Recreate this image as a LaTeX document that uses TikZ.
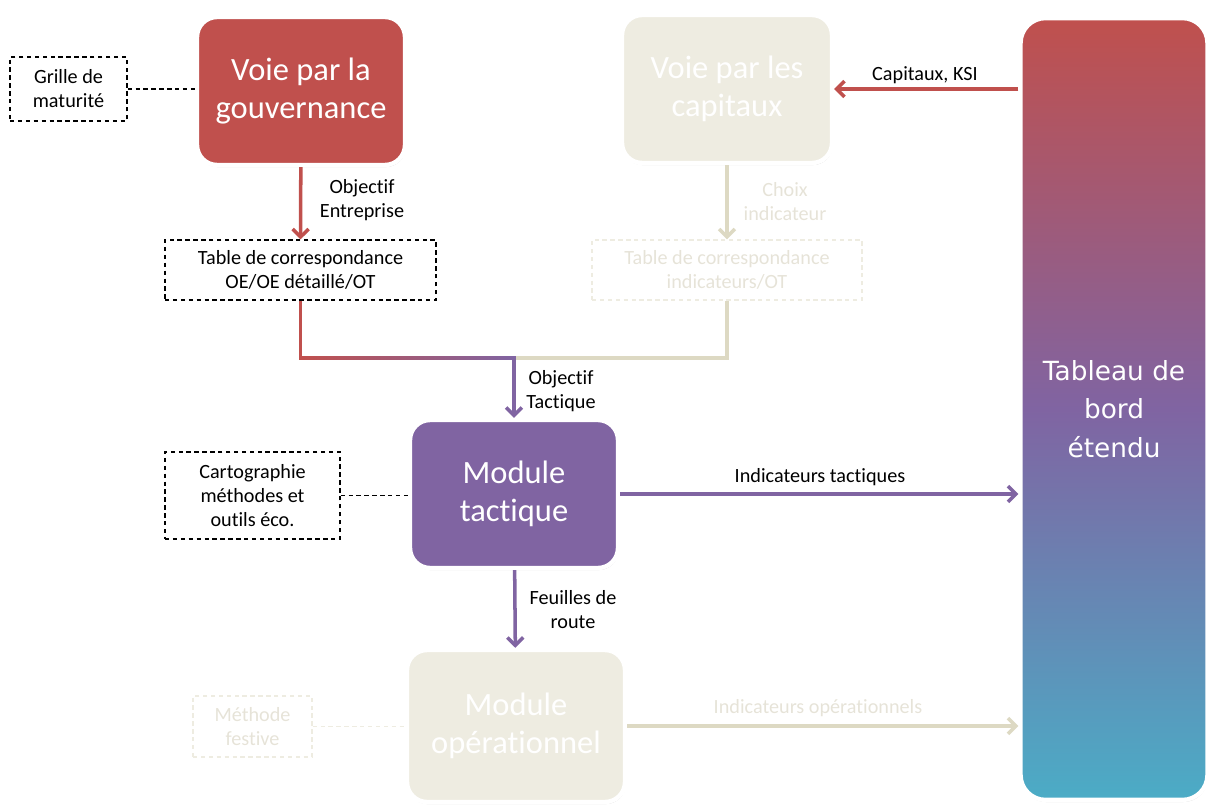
\documentclass[tikz,border=0pt]{standalone}
\usepackage{fontspec}
\setmainfont{Carlito}[Ligatures=NoCommon]
\newfontfamily\barfont{DejaVu Sans}
\usetikzlibrary{arrows.meta,positioning,shadows,calc}
\definecolor{govred}{HTML}{C0504D}
\definecolor{tacpurple}{HTML}{8064A2}
\definecolor{barcyan}{HTML}{4BACC6}
\definecolor{paleback}{HTML}{EEECE1}
\definecolor{paleline}{HTML}{DDD9C3}
\definecolor{paletext}{HTML}{E6E3D8}

\begin{document}
\begin{tikzpicture}[
  x=0.02cm, y=-0.02cm,
  every node/.style={font=\fontsize{11.5}{13.6}\selectfont},
  mod/.style={draw=white, line width=2.5pt, rounded corners=0.4cm,
              minimum width=4.16cm, minimum height=2.96cm, align=center,
              text=white, font=\fontsize{18.5}{21.5}\selectfont,
              drop shadow={shadow xshift=0.4pt, shadow yshift=-1.2pt,
                           opacity=0.35, fill=gray}},
  govmod/.style={mod, fill=govred},
  tacmod/.style={mod, fill=tacpurple},
  palemod/.style={mod, fill=paleback},
  tool/.style={draw, dash pattern=on 2.5pt off 2pt, line width=0.7pt,
               align=center, inner sep=0pt},
  paletool/.style={tool, draw=paleback, text=paletext},
  lbl/.style={align=center},
  palelbl/.style={lbl, text=paletext},
  arr/.style={-{Straight Barb[length=4.5pt,width=9pt]}, line width=2pt},
  link/.style={dash pattern=on 2.5pt off 2pt, line width=0.7pt}
]
\useasboundingbox (0,0) rectangle (1209,807);

%% main modules
\node[govmod]  (gov) at (301, 91)  {Voie par la\\gouvernance};
\node[palemod, minimum width=4.2cm] (cap) at (727, 89) {Voie par les\\capitaux};
\node[tacmod]  (tac) at (514, 494) {Module\\tactique};
\node[palemod, minimum width=4.36cm, minimum height=3.04cm]
  (op) at (516, 726) {Module\\opérationnel};

%% dashboard
\node[mod, top color=govred, bottom color=barcyan, middle color=tacpurple,
      minimum width=3.74cm, minimum height=15.64cm, rounded corners=0.5cm,
      font=\barfont\fontsize{15}{22}\selectfont]
  (bar) at (1114, 409) {Tableau de\\bord\\étendu};

%% tools
\node[tool, minimum width=2.34cm, minimum height=1.28cm]
  (grille) at (68.5, 89) {Grille de\\maturité};
\node[tool, minimum width=5.42cm, minimum height=1.2cm]
  (tblOE) at (300.5, 270) {Table de correspondance\\OE/OE détaillé/OT};
\node[paletool, minimum width=5.4cm, minimum height=1.2cm]
  (tblInd) at (727, 270) {Table de correspondance\\indicateurs/OT};
\node[tool, minimum width=3.5cm, minimum height=1.74cm]
  (carto) at (252.5, 495.5) {Cartographie\\méthodes et\\outils éco.};
\node[paletool, minimum width=2.38cm, minimum height=1.22cm]
  (festive) at (252.5, 726.5) {Méthode\\festive};

\foreach \a/\b/\c in {grille/gov/black, carto/tac/black, festive/op/paleback}
  \draw[link, \c] (\a.east) -- (\a.east -| \b.west);

%% flows
\draw[arr, govred] (cap.east -| bar.west) -- (cap.east);
\draw[arr, govred] (gov) -- (tblOE);
\draw[arr, paleline] (cap) -- (tblInd);

\coordinate (merge) at (514, 358);
\draw[line width=2pt, paleline] (tblInd.south) |- (merge);
\draw[line width=2pt, govred] (tblOE.south) |- (merge);
\shade[left color=govred, right color=tacpurple]
  ($(tblOE.south |- merge)+(0,-1.75)$) rectangle ($(merge)+(0,1.75)$);
\draw[arr, tacpurple] ($(merge)+(0,-1.75)$) -- (tac.north);

\draw[arr, tacpurple] (tac.east) -- (tac.east -| bar.west);
\draw[arr, tacpurple] (tac) -- (op);
\draw[arr, paleline] (op.east) -- (op.east -| bar.west);

%% labels
\node[lbl] (lCap) at (925, 75) {Capitaux, KSI};
\node[lbl] (lOE) at (362, 200) {Objectif\\Entreprise};
\node[palelbl] (lChoix) at (785, 202) {Choix\\indicateur};
\node[lbl] (lOT) at (561, 391) {Objectif\\Tactique};
\node[lbl] (lTac) at (820, 477) {Indicateurs tactiques};
\node[lbl] (lFeuil) at (573, 610) {Feuilles de\\route};
\node[palelbl] (lOp) at (818, 708) {Indicateurs opérationnels};

\end{tikzpicture}
\end{document}
